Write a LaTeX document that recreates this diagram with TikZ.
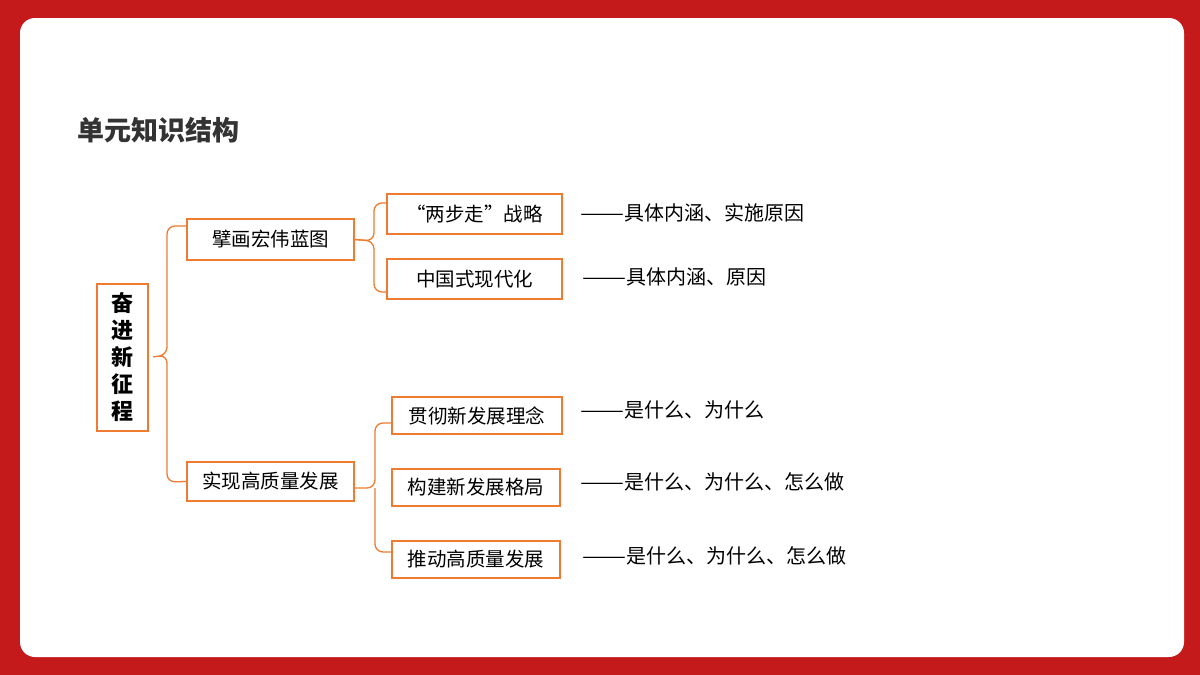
\documentclass[tikz,border=0pt]{standalone}
\usepackage{fontspec}
\setmainfont{Noto Sans CJK SC}
\newcommand{\ldash}{\resizebox{44pt}{\height}{——}}
\begin{document}
\begin{tikzpicture}[x=1pt,y=-1pt,
  bx/.style={draw=orng,line width=1.2pt,fill=white,inner sep=0pt,font=\fontsize{19.5}{22}\selectfont,text=black},
  lbl/.style={anchor=west,inner sep=0pt,font=\fontsize{20}{22}\selectfont,text=black},
  br/.style={draw=orng,line width=1.3pt,rounded corners=8pt}]
\definecolor{orng}{HTML}{EE7B30}
\definecolor{bgred}{HTML}{C41A1B}
\useasboundingbox (0,0) rectangle (1200,675);
\fill[bgred] (0,0) rectangle (1200,675);
\fill[white,rounded corners=15pt] (20,18) rectangle (1184,657);
\node[anchor=west,font=\bfseries\fontsize{27}{30}\selectfont,text=black!80] (title) at (74,130) {单元知识结构};
% boxes
\node[bx,minimum width=51pt,minimum height=147pt,align=center,font=\bfseries\fontsize{22}{27}\selectfont] (m) at (122.5,357.5) {奋\\进\\新\\征\\程};
\node[bx,minimum width=167pt,minimum height=41pt] (a) at (270.5,239.5) {擘画宏伟蓝图};
\node[bx,minimum width=167pt,minimum height=39pt] (b) at (270.5,481.5) {实现高质量发展};
\node[bx,minimum width=175pt,minimum height=40pt] (a1) at (474.5,214) {“两步走”战略};
\node[bx,minimum width=175pt,minimum height=40pt] (a2) at (474.5,279) {中国式现代化};
\node[bx,minimum width=170pt,minimum height=37pt] (b1) at (477,415.5) {贯彻新发展理念};
\node[bx,minimum width=168pt,minimum height=37pt] (b2) at (476,487.5) {构建新发展格局};
\node[bx,minimum width=168pt,minimum height=37pt] (b3) at (476,559.5) {推动高质量发展};
% labels
\node[lbl] (l1) at (580,213) {\ldash 具体内涵、实施原因};
\node[lbl] (l2) at (582,277) {\ldash 具体内涵、原因};
\node[lbl] (l3) at (580,410) {\ldash 是什么、为什么};
\node[lbl] (l4) at (580,482) {\ldash 是什么、为什么、怎么做};
\node[lbl] (l5) at (582,556) {\ldash 是什么、为什么、怎么做};
% braces
\draw[br] (a.west|-0,226) -- (167,226) -- (167,355) -- (m.east) -- (167,355) -- (167,482) -- (b.west);
\draw[br] (a1.west|-0,203) -- (374,203) -- (374,241) -- (a.east);
\draw[br] (a.east) -- (374,241) -- (374,292) -- (a2.west|-0,292);
\draw[br] (b1.west|-0,423) -- (375,423) -- (375,488) -- (b.east|-0,488);
\draw[br] (375,488) -- (375,552) -- (b3.west|-0,552);
\end{tikzpicture}
\end{document}
